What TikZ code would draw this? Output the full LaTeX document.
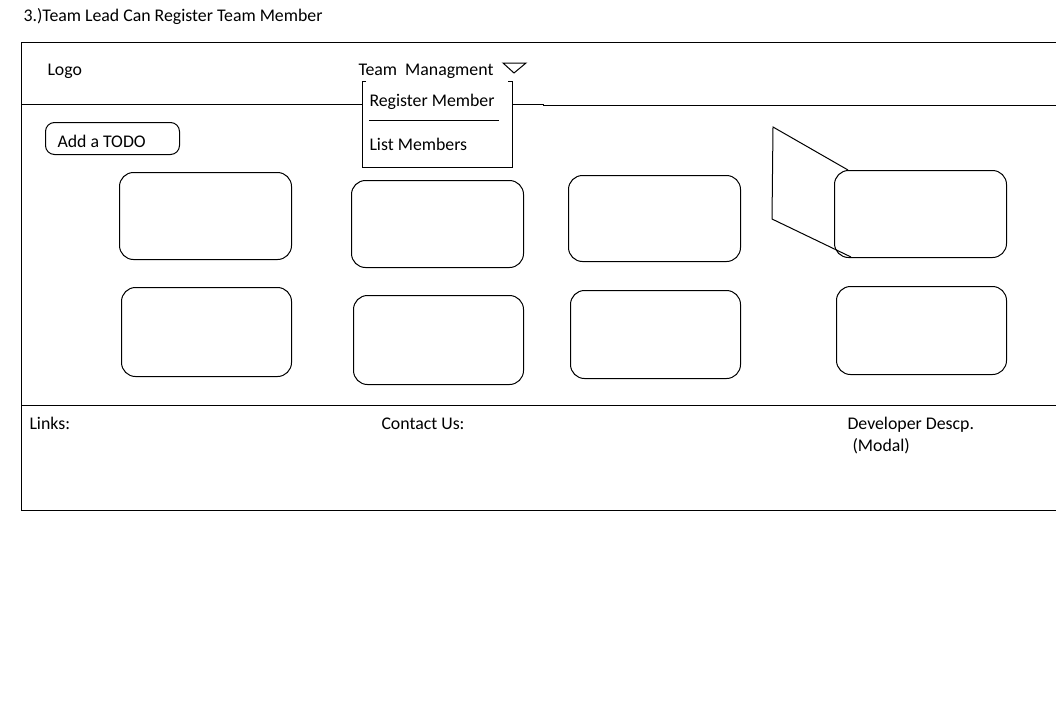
\documentclass[tikz,border=0pt]{standalone}
\usepackage{fontspec}
\setmainfont{Carlito}
\begin{document}
\begin{tikzpicture}[x=1pt,y=-1pt,line width=1pt,
  txt/.style={anchor=base west,inner sep=0pt,font=\fontsize{17.8}{20}\selectfont},
  card/.style={draw,rounded corners=14pt,anchor=north west,inner sep=0pt},
]
\useasboundingbox[fill=white] (0,0) rectangle (1056,720);
% title
\node[txt] (title) at (23,21) {3.)Team Lead Can Register Team Member};
% frame
\draw (1056,42) -- (21,42) -- (21,510) -- (1056,510);
\draw (21,104) -- (362,104);
\draw (512,104) -- (543,104) -- (543,105) -- (1056,105);
\draw (21,405) -- (1056,405);
% header
\node[txt] (logo) at (47,75) {Logo};
\node[txt] (team) at (358,75) {Team\ \ Managment};
\draw (503,63) -- (526,63) -- (514,73) -- cycle;
% dropdown
\draw (366,81) -- (362,81) -- (362,167) -- (512,167) -- (512,81) -- (508,81);
\node[txt] (reg) at (369,106) {Register Member};
\draw (369,120) -- (499,120);
\node[txt] (list) at (369,150) {List Members};
% add todo
\node[draw,rounded corners=9pt,anchor=north west,minimum width=134pt,minimum height=32pt,inner sep=0pt] (todo) at (45,122) {};
\node[txt] (todot) at (57,147) {Add a TODO};
% cards
\node[card,minimum width=172pt,minimum height=87pt] (c1) at (119,172) {};
\node[card,minimum width=172pt,minimum height=87pt] (c2) at (351,180) {};
\node[card,minimum width=172pt,minimum height=86pt] (c3) at (568,175) {};
\node[card,minimum width=172pt,minimum height=87pt] (c4) at (834,170) {};
\node[card,minimum width=170pt,minimum height=89pt] (c5) at (121,287) {};
\node[card,minimum width=170pt,minimum height=89pt] (c6) at (353,295) {};
\node[card,minimum width=170pt,minimum height=88pt] (c7) at (570,290) {};
\node[card,minimum width=170pt,minimum height=88pt] (c8) at (836,286) {};
% trapezoid
\coordinate (tl) at (773,127);
\coordinate (bl) at (772,219);
\coordinate (tr) at (848,170);
\coordinate (br) at (851,257);
\draw (tr) -- (tl) -- (bl) -- (br);
% footer
\node[txt] (links) at (29,429) {Links:};
\node[txt] (contact) at (381,429) {Contact Us:};
\node[txt] (dev) at (847,429) {Developer Descp.};
\node[txt] (modal) at (852,451) {(Modal)};
\end{tikzpicture}
\end{document}
